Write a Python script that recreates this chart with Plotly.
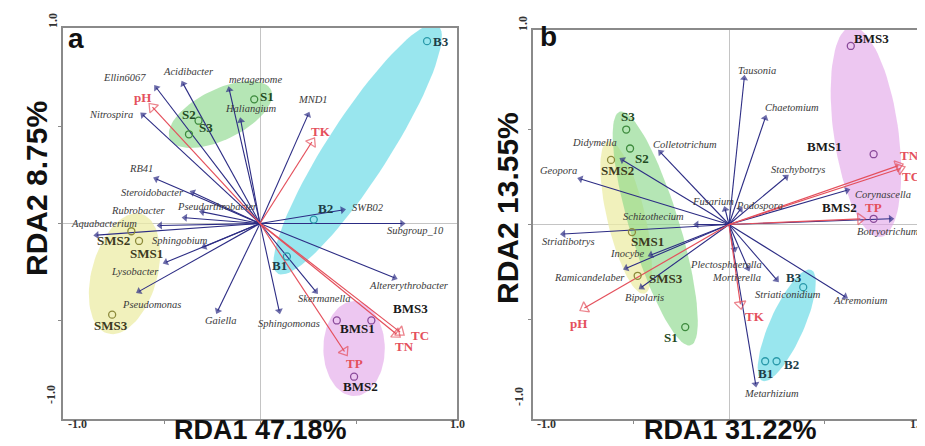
import numpy as np
import plotly.graph_objects as go

# ------------------------------------------------------------------ data
# Panel a (bacteria)
SAMPLES_A = ["B3", "S1", "S2", "S3", "B2", "B1", "BMS1", "BMS3", "BMS2", "SMS2", "SMS1", "SMS3"]
SAMPLE_A_X = [0.87, -0.03, -0.32, -0.37, 0.28, 0.14, 0.40, 0.58, 0.49, -0.67, -0.63, -0.77]
SAMPLE_A_Y = [0.94, 0.64, 0.53, 0.46, 0.02, -0.17, -0.50, -0.50, -0.79, -0.04, -0.09, -0.47]

ENV_A = ["pH", "TK", "TC", "TN", "TP"]
ENV_A_X = [-0.56, 0.27, 0.73, 0.71, 0.44]
ENV_A_Y = [0.60, 0.42, -0.56, -0.57, -0.66]

SPECIES_A = ["Ellin6067", "Acidibacter", "Nitrospira", "metagenome", "Haliangium", "MND1",
             "RB41", "Steroidobacter", "Pseudarthrobacter", "Rubrobacter", "Aquabacterium", "",
             "Sphingobium", "Lysobacter", "Pseudomonas", "Gaiella", "Sphingomonas",
             "Skermanella", "Altererythrobacter", "Subgroup_10", "SWB02"]
SPECIES_A_X = [-0.54, -0.40, -0.61, -0.16, -0.10, 0.25, -0.54, -0.35, -0.30, -0.39, -0.85, -0.52,
               -0.29, -0.49, -0.63, -0.22, 0.10, 0.29, 0.70, 0.74, 0.43]
SPECIES_A_Y = [0.70, 0.72, 0.56, 0.69, 0.53, 0.56, 0.23, 0.16, 0.06, 0.03, -0.06, -0.01,
               -0.12, -0.20, -0.35, -0.45, -0.45, -0.35, -0.28, 0.00, 0.07]
AXIS_TITLES_A = ["RDA1 47.18%", "RDA2 8.75%"]

# Panel b (fungi)
SAMPLES_B = ["BMS3", "BMS1", "BMS2", "S3", "S2", "SMS2", "SMS1", "SMS3", "S1", "B3", "B1", "B2"]
SAMPLE_B_X = [0.64, 0.76, 0.76, -0.54, -0.52, -0.62, -0.51, -0.48, -0.23, 0.39, 0.19, 0.25]
SAMPLE_B_Y = [0.94, 0.37, 0.03, 0.50, 0.40, 0.34, -0.04, -0.27, -0.54, -0.33, -0.72, -0.72]

ENV_B = ["pH", "TK", "TN", "TC", "TP"]
ENV_B_X = [-0.76, 0.06, 0.89, 0.90, 0.69]
ENV_B_Y = [-0.44, -0.42, 0.31, 0.295, 0.03]

SPECIES_B = ["Tausonia", "Chaetomium", "Stachybotrys", "Corynascella", "Botryotrichum",
             "Podospora", "Fusarium", "Colletotrichum", "Didymella", "Geopora", "Schizothecium",
             "Striatibotrys", "Inocybe", "Ramicandelaber", "Bipolaris", "Plectosphaerella",
             "Mortierella", "Striaticonidium", "Acremonium", "Metarhizium"]
SPECIES_B_X = [0.08, 0.19, 0.30, 0.62, 0.85, 0.06, -0.02, -0.36, -0.56, -0.78, -0.17,
               -0.87, -0.41, -0.54, -0.46, 0.03, 0.10, 0.25, 0.61, 0.14]
SPECIES_B_Y = [0.77, 0.56, 0.25, 0.18, 0.03, 0.08, 0.08, 0.38, 0.34, 0.24, 0.00,
               -0.05, -0.16, -0.23, -0.33, -0.13, -0.23, -0.29, -0.38, -0.84]
AXIS_TITLES_B = ["RDA1 31.22%", "RDA2 13.55%"]

CORNER_TICKS = ["-1.0", "1.0"]
PANEL_LETTERS = ["a", "b"]

# ------------------------------------------------------------------ styles
W, H = 925, 446
NAVY = "#2c2c84"
RED = "#e4505c"
GROUP_ORDER = ["SMS", "S", "B", "BMS"]
FILL = {"S": "rgba(135,215,135,0.62)", "B": "rgba(105,218,230,0.68)",
        "BMS": "rgba(226,165,232,0.62)", "SMS": "rgba(236,236,165,0.75)"}
CIRCLE = {"S": "#3d8a3d", "B": "#2a9aaa", "BMS": "#8a4a9a", "SMS": "#8c8a3a"}
LABELC = {"S": "#1f4a22", "B": "#1d3d48", "BMS": "#1a1a1a", "SMS": "#3c3a1e"}
MINOR_A = {"S": 0.13, "B": 0.16, "BMS": 0.16, "SMS": 0.17}
MINOR_B = {"S": 0.13, "B": 0.09, "BMS": 0.17, "SMS": 0.10}
PAD_MAJOR = 0.10

SHIFT_A = {
    "Ellin6067": (-32, 10), "Acidibacter": (5, 12), "Nitrospira": (-32, 0), "metagenome": (26, 10),
    "Haliangium": (10, 12), "MND1": (5, 15), "RB41": (-15, 10), "Steroidobacter": (-40, 0),
    "Pseudarthrobacter": (15, 5), "Rubrobacter": (-47, 7), "Aquabacterium": (7, 12), "": (0, 0),
    "Sphingobium": (-24, 6), "Lysobacter": (-31, -9), "Pseudomonas": (12, -13), "Gaiella": (3, -10),
    "Sphingomonas": (10, -13), "Skermanella": (9, -7), "Altererythrobacter": (15, -8),
    "Subgroup_10": (13, -7), "SWB02": (25, 2),
    "env:pH": (-10, 10), "env:TK": (9, 11), "env:TC": (20, -3), "env:TN": (8, -12), "env:TP": (10, -12),
    "s:B3": (14, 0), "s:S1": (13, 3), "s:S2": (-10, 6), "s:S3": (17, 7), "s:B2": (12, 11),
    "s:B1": (-7, -9), "s:BMS1": (21, -8), "s:BMS3": (39, 12), "s:BMS2": (6, -10),
    "s:SMS2": (-18, -9), "s:SMS1": (7, -13), "s:SMS3": (-1, -11),
}
SHIFT_B = {
    "Tausonia": (13, 8), "Chaetomium": (27, 11), "Stachybotrys": (12, 8), "Corynascella": (36, -4),
    "Botryotrichum": (-3, -13), "Podospora": (19, 4), "Fusarium": (-12, 8), "Colletotrichum": (24, 8),
    "Didymella": (-28, 17), "Geopora": (-22, 8), "Schizothecium": (-43, 8), "Striatibotrys": (5, -7),
    "Inocybe": (-23, 1), "Ramicandelaber": (-37, -9), "Bipolaris": (3, -10),
    "Plectosphaerella": (-9, -15), "Mortierella": (-12, -9), "Striaticonidium": (11, -15),
    "Acremonium": (15, -4), "Metarhizium": (16, -9),
    "env:pH": (-6, -15), "env:TK": (15, -12), "env:TN": (11, 10), "env:TC": (11, -8), "env:TP": (13, 11),
    "s:BMS3": (21, 7), "s:BMS1": (-49, 8), "s:BMS2": (-34, 11), "s:S3": (2, 13), "s:S2": (12, -10),
    "s:SMS2": (6, -11), "s:SMS1": (16, -9), "s:SMS3": (28, -3), "s:S1": (-14, -10),
    "s:B3": (-9, 10), "s:B1": (0, -12), "s:B2": (15, -3),
}

SERIF = "Liberation Serif, Times New Roman, serif"
SANS = "Liberation Sans, Arial, sans-serif"


def group_of(name):
    if name.startswith("BMS"):
        return "BMS"
    if name.startswith("SMS"):
        return "SMS"
    if name.startswith("S"):
        return "S"
    return "B"


def hull_ellipse(xs, ys, minor, n=90):
    P = np.column_stack([xs, ys]).astype(float)
    c = P.mean(axis=0)
    w, V = np.linalg.eigh(np.cov((P - c).T))
    u = V[:, -1]
    v = np.array([-u[1], u[0]])
    pu = (P - c) @ u
    pv = (P - c) @ v
    cen = c + u * (pu.max() + pu.min()) / 2 + v * (pv.max() + pv.min()) / 2
    a = (pu.max() - pu.min()) / 2 + PAD_MAJOR
    t = np.linspace(0, 2 * np.pi, n)
    pts = cen + np.outer(a * np.cos(t), u) + np.outer(minor * np.sin(t), v)
    return pts[:, 0], pts[:, 1]


fig = go.Figure()
annotations = []


def add_panel(xa, ya, samples, sx, sy, env, ex, ey, species, spx, spy, shifts, minors):
    xr, yr = xa.replace("axis", ""), ya.replace("axis", "")
    groups = [group_of(s) for s in samples]
    # ellipses
    for g in GROUP_ORDER:
        gx = [x for x, gg in zip(sx, groups) if gg == g]
        gy = [y for y, gg in zip(sy, groups) if gg == g]
        exs, eys = hull_ellipse(gx, gy, minors[g])
        fig.add_trace(go.Scatter(x=exs, y=eys, mode="lines", fill="toself", fillcolor=FILL[g],
                                 line=dict(width=0), hoverinfo="skip", xaxis=xr, yaxis=yr))
    # species arrows
    for name, x, y in zip(species, spx, spy):
        fig.add_trace(go.Scatter(x=[0, x], y=[0, y], mode="lines+markers",
                                 line=dict(color=NAVY, width=1.1),
                                 marker=dict(symbol="triangle-up", size=[0, 7], color=NAVY,
                                             angleref="previous", line=dict(width=0)),
                                 hoverinfo="skip", xaxis=xr, yaxis=yr))
        dx, dy = shifts[name]
        if name:
            annotations.append(dict(x=x, y=y, xref=xr, yref=yr, text=name, showarrow=False,
                                    xshift=dx, yshift=dy, xanchor="center", yanchor="middle",
                                    font=dict(family=SERIF, size=10.5, color="#3a3a3a", style="italic")))
    # environmental arrows
    for name, x, y in zip(env, ex, ey):
        fig.add_trace(go.Scatter(x=[0, x], y=[0, y], mode="lines+markers",
                                 line=dict(color=RED, width=1.2),
                                 marker=dict(symbol="triangle-up-open", size=[0, 10], color=RED,
                                             angleref="previous", line=dict(width=1.3, color=RED)),
                                 hoverinfo="skip", xaxis=xr, yaxis=yr))
        dx, dy = shifts["env:" + name]
        annotations.append(dict(x=x, y=y, xref=xr, yref=yr, text=name, showarrow=False,
                                xshift=dx, yshift=dy, xanchor="center", yanchor="middle",
                                font=dict(family=SERIF, size=13, color=RED, weight="bold")))
    # sample points
    fig.add_trace(go.Scatter(x=sx, y=sy, mode="markers",
                             marker=dict(symbol="circle-open", size=7,
                                         color=[CIRCLE[g] for g in groups],
                                         line=dict(width=1.3)),
                             hoverinfo="skip", xaxis=xr, yaxis=yr))
    for name, x, y, g in zip(samples, sx, sy, groups):
        dx, dy = shifts["s:" + name]
        annotations.append(dict(x=x, y=y, xref=xr, yref=yr, text=name, showarrow=False,
                                xshift=dx, yshift=dy, xanchor="center", yanchor="middle",
                                font=dict(family=SERIF, size=13, color=LABELC[g], weight="bold")))


add_panel("xaxis", "yaxis", SAMPLES_A, SAMPLE_A_X, SAMPLE_A_Y, ENV_A, ENV_A_X, ENV_A_Y,
          SPECIES_A, SPECIES_A_X, SPECIES_A_Y, SHIFT_A, MINOR_A)
add_panel("xaxis2", "yaxis2", SAMPLES_B, SAMPLE_B_X, SAMPLE_B_Y, ENV_B, ENV_B_X, ENV_B_Y,
          SPECIES_B, SPECIES_B_X, SPECIES_B_Y, SHIFT_B, MINOR_B)


def px(xp):
    return xp / W


def py(yp):
    return 1 - yp / H


axis_common = dict(showgrid=False, zeroline=True, zerolinecolor="#c4c4c4", zerolinewidth=1,
                   showline=True, mirror=True, linecolor="#8a8a8a", linewidth=1.5,
                   ticks="outside", ticklen=3, tickcolor="#8a8a8a", tickvals=[-0.5, 0, 0.5],
                   showticklabels=False, fixedrange=True)

fig.update_layout(
    width=W, height=H, margin=dict(l=0, r=0, t=0, b=0),
    paper_bgcolor="white", plot_bgcolor="white", showlegend=False,
    xaxis=dict(domain=[px(55), px(449)], range=[-1.026, 1.026], anchor="y", **axis_common),
    yaxis=dict(domain=[py(411), py(20)], range=[-1.008, 1.008], anchor="x", **axis_common),
    xaxis2=dict(domain=[px(525), px(917)], range=[-1.03, 1.03], anchor="y2", **axis_common),
    yaxis2=dict(domain=[py(411), py(22)], range=[-1.024, 1.024], anchor="x2", **axis_common),
)

tick_font = dict(family=SERIF, size=12, color="#333", weight="bold")
xtitle_font = dict(family=SANS, size=27, color="#111", weight="bold")
ytitle_font = dict(family=SANS, size=30, color="#111", weight="bold")
letter_font = dict(family=SANS, size=28, color="#111", weight="bold")


def paper_text(xp, yp, text, font, angle=0):
    annotations.append(dict(x=px(xp), y=py(yp), xref="paper", yref="paper", text=text,
                            showarrow=False, xanchor="center", yanchor="middle",
                            textangle=angle, font=font))


# corner tick labels, axis titles, panel letters (paper positions)
for (xl, yl), (xr_, yr_), (ybot, ytop), (xt, yt), (ytx, yty), letter_pos, titles, letter in [
    ((69, 416), (449, 416), ((43, 387), (45, 13)), (252, 422), (29, 181), (68, 31), AXIS_TITLES_A, PANEL_LETTERS[0]),
    ((538, 416), (909, 416), ((511, 389), (515, 16)), (722, 422), (500, 200), (540, 29), AXIS_TITLES_B, PANEL_LETTERS[1]),
]:
    paper_text(xl, yl, CORNER_TICKS[0], tick_font)
    paper_text(xr_, yr_, CORNER_TICKS[1], tick_font)
    paper_text(ybot[0], ybot[1], CORNER_TICKS[0], tick_font, -90)
    paper_text(ytop[0], ytop[1], CORNER_TICKS[1], tick_font, -90)
    paper_text(xt, yt, titles[0], xtitle_font)
    paper_text(ytx, yty, titles[1], ytitle_font, -90)
    paper_text(letter_pos[0], letter_pos[1], letter, letter_font)

fig.update_layout(annotations=annotations)
fig.write_html("out.html")
